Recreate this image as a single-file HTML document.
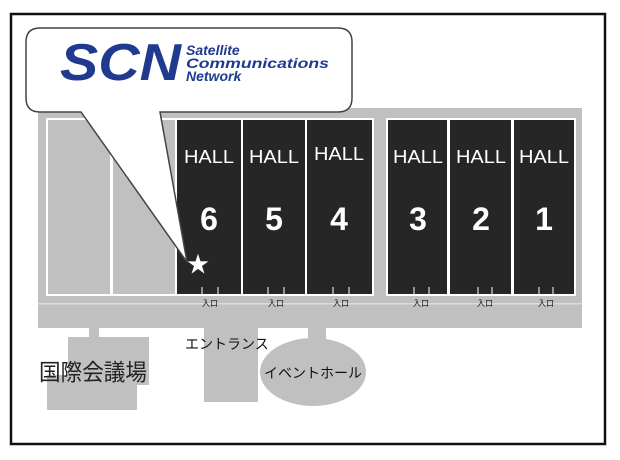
<!DOCTYPE html>
<html><head><meta charset="utf-8"><style>
body{margin:0;background:#fff}
svg{display:block}
</style></head><body>
<svg width="620" height="460" viewBox="0 0 620 460" xmlns="http://www.w3.org/2000/svg" font-family="Liberation Sans, Noto Sans CJK JP, sans-serif">
<rect x="11" y="14" width="594" height="430" fill="#fff" stroke="#111" stroke-width="2.5"/>
<rect x="38" y="108" width="544" height="220" fill="#c0c0c0"/>
<rect x="38" y="303" width="544" height="1.5" fill="#ddd"/>
<rect x="46" y="118" width="328" height="178" fill="#fff"/>
<rect x="386" y="118" width="190" height="178" fill="#fff"/>
<rect x="48" y="120" width="62" height="174" fill="#c0c0c0"/>
<rect x="113" y="120" width="62" height="174" fill="#c0c0c0"/>
<g fill="#262626">
<rect x="177" y="120" width="64" height="174"/>
<rect x="243" y="120" width="62" height="174"/>
<rect x="307" y="120" width="65" height="174"/>
<rect x="388" y="120" width="59" height="174"/>
<rect x="450" y="120" width="61" height="174"/>
<rect x="514" y="120" width="60" height="174"/>
</g>
<g fill="#fff" font-size="18">
<text x="209" y="163" text-anchor="middle" textLength="50" lengthAdjust="spacingAndGlyphs">HALL</text>
<text x="274" y="163" text-anchor="middle" textLength="50" lengthAdjust="spacingAndGlyphs">HALL</text>
<text x="339" y="160" text-anchor="middle" textLength="50" lengthAdjust="spacingAndGlyphs">HALL</text>
<text x="418" y="163" text-anchor="middle" textLength="50" lengthAdjust="spacingAndGlyphs">HALL</text>
<text x="481" y="163" text-anchor="middle" textLength="50" lengthAdjust="spacingAndGlyphs">HALL</text>
<text x="544" y="163" text-anchor="middle" textLength="50" lengthAdjust="spacingAndGlyphs">HALL</text>
</g>
<g fill="#fff" font-size="32" font-weight="bold">
<text x="209" y="230" text-anchor="middle">6</text>
<text x="274" y="230" text-anchor="middle">5</text>
<text x="339" y="230" text-anchor="middle">4</text>
<text x="418" y="230" text-anchor="middle">3</text>
<text x="481" y="230" text-anchor="middle">2</text>
<text x="544" y="230" text-anchor="middle">1</text>
</g>
<g stroke="#fff" stroke-width="1">
<path d="M202 287V296M218 287V296M268 287V296M284 287V296M333 287V296M349 287V296M414 287V296M429 287V296M478 287V296M492 287V296M539 287V296M553 287V296"/>
</g>
<g font-size="8" fill="#111" text-anchor="middle">
<text x="210" y="306">入口</text><text x="276" y="306">入口</text><text x="341" y="306">入口</text>
<text x="421" y="306">入口</text><text x="485" y="306">入口</text><text x="546" y="306">入口</text>
</g>
<g fill="#c0c0c0">
<rect x="89" y="327" width="10" height="12"/>
<rect x="68" y="337" width="81" height="48"/>
<rect x="47" y="375" width="90" height="35"/>
<rect x="56" y="385" width="50" height="25"/>
<rect x="204" y="327" width="54" height="75"/>
<rect x="308" y="327" width="18" height="14"/>
<ellipse cx="313" cy="372" rx="53" ry="34"/>
</g>
<text x="39" y="380" font-size="23" fill="#222" textLength="108" lengthAdjust="spacingAndGlyphs">国際会議場</text>
<text x="185" y="349" font-size="14" fill="#111">エントランス</text>
<text x="313" y="378" font-size="14" fill="#111" text-anchor="middle">イベントホール</text>
<path d="M40 28 H338 Q352 28 352 42 V98 Q352 112 338 112 H160 L187 262 L81 112 H40 Q26 112 26 98 V42 Q26 28 40 28 Z" fill="#fff" stroke="#444" stroke-width="1.5"/>
<text x="60" y="80" font-size="52" font-weight="bold" font-style="italic" fill="#1f3a8f" textLength="121" lengthAdjust="spacingAndGlyphs">SCN</text>
<g font-size="14" font-weight="bold" font-style="italic" fill="#1f3a8f">
<text x="186" y="55">Satellite</text>
<text x="186" y="68" textLength="143" lengthAdjust="spacingAndGlyphs">Communications</text>
<text x="186" y="81">Network</text>
</g>
<text x="198" y="272" font-size="22" fill="#fff" text-anchor="middle">★</text>
</svg>
</body></html>
